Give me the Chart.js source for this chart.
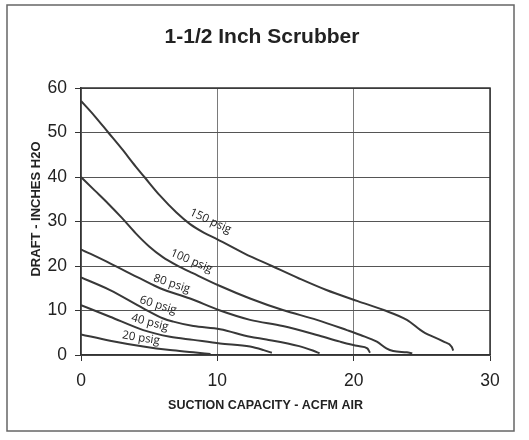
<!DOCTYPE html>
<html><head><meta charset="utf-8">
<style>html,body{margin:0;padding:0;background:#fff}#wrap{position:relative;width:529px;height:440px}</style>
<script src="https://cdn.jsdelivr.net/npm/chart.js@4/dist/chart.umd.min.js"></script>
</head><body><div id="wrap"><canvas id="c" width="529" height="440"></canvas></div>
<script>
const chartTitle = '1-1/2 Inch Scrubber';
const xAxisTitle = 'SUCTION CAPACITY - ACFM AIR';
const yAxisTitle = 'DRAFT - INCHES H2O';
const xTicks = [0, 10, 20, 30];
const yTicks = [0, 10, 20, 30, 40, 50, 60];
const seriesNames = ['150 psig', '100 psig', '80 psig', '60 psig', '40 psig', '20 psig'];

const x150 = [0, 1, 2, 3, 4, 4.65, 5.8, 7, 8, 9, 10, 12, 14, 16, 18, 20.3, 22.2, 23.9, 25.1, 26.6, 27.2, 27.3];
const y150 = [57.1, 53.7, 50, 46.3, 42.4, 40, 35.8, 32.0, 29.4, 27.5, 26, 22.8, 20, 17.2, 14.6, 12.1, 10.1, 7.9, 5.2, 3.0, 1.8, 1.0];
const x100 = [0, 1, 2, 3, 4, 5, 6, 7, 8.2, 10.2, 12.4, 14.8, 17.3, 19.5, 20.5, 21.7, 22.4, 22.9, 23.9, 24.3];
const y100 = [40, 37, 34, 30.8, 27.4, 24.4, 22.0, 20.2, 18.4, 15.5, 12.7, 10.1, 7.9, 5.6, 4.5, 3.0, 1.5, 0.9, 0.6, 0.4];
const x80 = [0, 2.13, 4.33, 5.8, 8.0, 10.2, 12.4, 14.8, 17.3, 19.0, 20.35, 21.0, 21.2];
const y80 = [23.75, 20.6, 17.2, 15.0, 12.7, 10.0, 7.9, 6.5, 4.5, 3.0, 2.0, 1.5, 0.5];
const x60 = [0, 2.13, 4.57, 6.04, 6.77, 8.24, 10.2, 12.4, 13.6, 16.0, 17.0, 17.5];
const y60 = [17.45, 14.6, 10.5, 8.2, 7.5, 6.5, 5.8, 4.1, 3.5, 2.0, 1.0, 0.4];
const x40 = [0, 2.13, 4.57, 6.53, 8.24, 10.2, 12.4, 13.4, 14.0];
const y40 = [11.2, 8.6, 5.6, 4.1, 3.4, 2.6, 1.9, 1.1, 0.5];
const x20 = [0, 2.13, 4.57, 6.53, 8.24, 9.5];
const y20 = [4.64, 3.2, 1.9, 1.1, 0.6, 0.2];

const seriesX = [x150, x100, x80, x60, x40, x20];
const seriesY = [y150, y100, y80, y60, y40, y20];

// label anchors (data units) and angles
const labelX = [9.5, 8.1, 6.65, 5.65, 5.05, 4.4];
const labelY = [30.1, 21.1, 16.0, 11.2, 7.3, 3.8];
const labelAngle = [25, 23, 18, 17, 15, 9];

const datasets = seriesNames.map((n, i) => ({
  label: n,
  data: seriesX[i].map((x, j) => ({x: x, y: seriesY[i][j]})),
  showLine: true,
  borderColor: '#383838',
  borderWidth: 2,
  pointRadius: 0,
  cubicInterpolationMode: 'monotone',
  fill: false
}));

const FONT = '"Liberation Sans", Arial, sans-serif';

const deco = {
  id: 'deco',
  beforeDatasetsDraw(chart) {
    const {ctx, chartArea: a} = chart;
    ctx.save();
    ctx.strokeStyle = '#333';
    ctx.lineWidth = 1.5;
    ctx.beginPath();
    ctx.moveTo(a.left, a.top); ctx.lineTo(a.right, a.top); ctx.lineTo(a.right, a.bottom);
    ctx.stroke();
    ctx.restore();
  },
  afterDraw(chart) {
    const {ctx, chartArea: a, scales} = chart;
    ctx.save();
    // frame
    ctx.strokeStyle = '#666';
    ctx.lineWidth = 1.5;
    ctx.strokeRect(7, 5, 507, 426);
    // title
    ctx.fillStyle = '#222';
    ctx.textAlign = 'center';
    ctx.textBaseline = 'middle';
    ctx.font = 'bold 21px ' + FONT;
    ctx.fillText(chartTitle, 262, 37);
    // x axis title
    ctx.font = 'bold 12.5px ' + FONT;
    ctx.fillText(xAxisTitle, (a.left + a.right) / 2 - 20, 406);
    // y axis title
    ctx.save();
    ctx.translate(36, 209);
    ctx.rotate(-Math.PI / 2);
    ctx.font = 'bold 13px ' + FONT;
    ctx.fillText(yAxisTitle, 0, 0);
    ctx.restore();
    // curve labels
    ctx.font = '11.5px "Open Sans", sans-serif';
    ctx.fillStyle = '#222';
    seriesNames.forEach((n, i) => {
      const px = scales.x.getPixelForValue(labelX[i]);
      const py = scales.y.getPixelForValue(labelY[i]);
      ctx.save();
      ctx.translate(px, py);
      ctx.rotate(labelAngle[i] * Math.PI / 180);
      ctx.fillText(n, 0, 0);
      ctx.restore();
    });
    ctx.restore();
  }
};

new Chart(document.getElementById('c'), {
  type: 'scatter',
  data: {datasets},
  options: {
    responsive: false,
    devicePixelRatio: 1,
    animation: false,
    layout: {padding: {left: 40, right: 39, top: 88, bottom: 45}},
    plugins: {legend: {display: false}, tooltip: {enabled: false}, title: {display: false}},
    scales: {
      x: {
        type: 'linear', min: 0, max: 30,
        afterBuildTicks: s => { s.ticks = xTicks.map(v => ({value: v})); },
        afterFit: s => { s.height = 40; },
        ticks: {font: {family: FONT, size: 17.5}, color: '#222', padding: 10, maxRotation: 0},
        grid: {color: '#7a7a7a', lineWidth: 1, tickColor: '#333', tickLength: 6},
        border: {color: '#333', width: 1.5}
      },
      y: {
        type: 'linear', min: 0, max: 60,
        afterBuildTicks: s => { s.ticks = yTicks.map(v => ({value: v})); },
        afterFit: s => { s.width = 41; },
        ticks: {font: {family: FONT, size: 17.5}, color: '#222', padding: 8},
        grid: {color: '#555', lineWidth: 1, tickColor: '#333', tickLength: 6},
        border: {color: '#333', width: 1.5}
      }
    }
  },
  plugins: [deco]
});
</script>
</body></html>
